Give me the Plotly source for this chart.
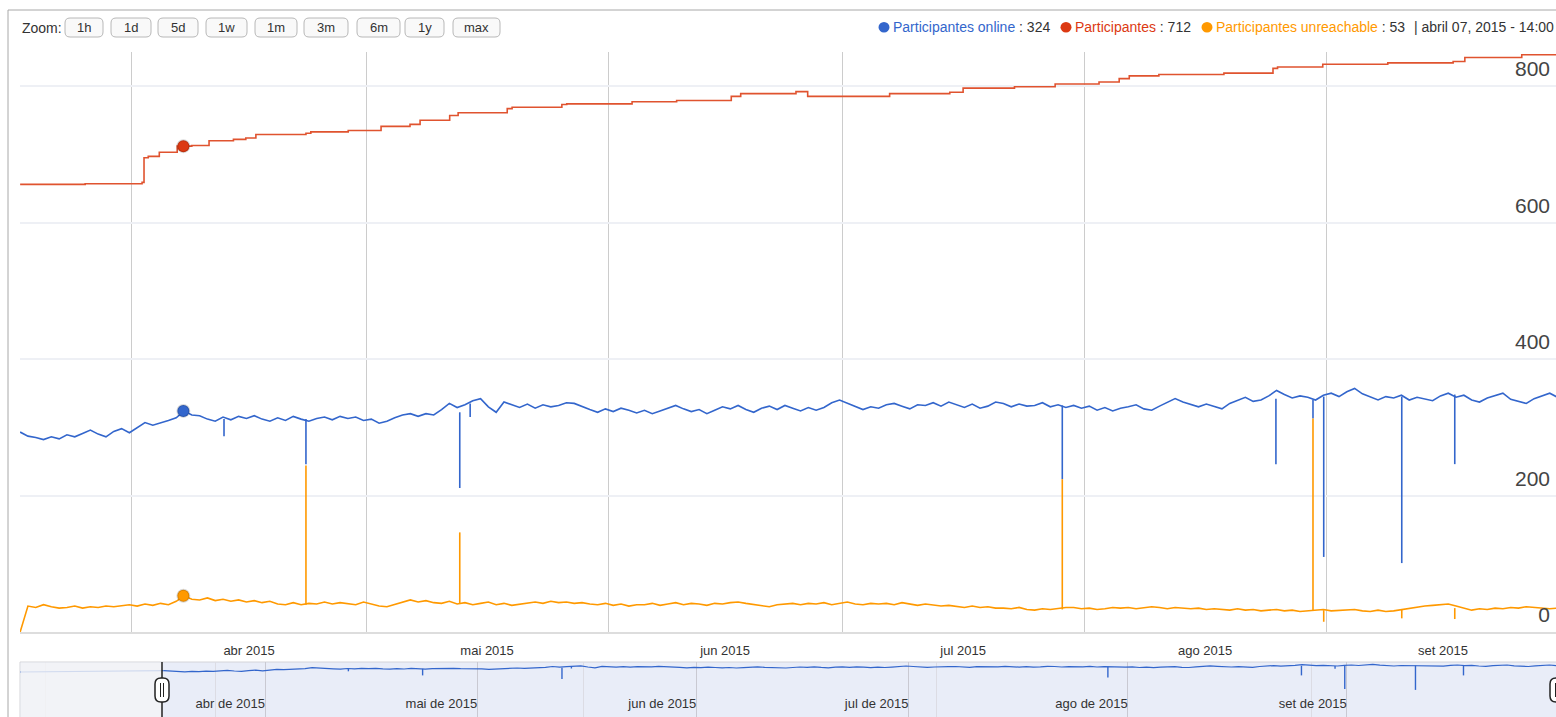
import pandas as pd
import plotly.graph_objects as go

# ---- data ----
day_start = "2015-03-17 16:00"   # one value per day from here

participantes_online = [
    293, 287, 285, 282, 286, 283, 289, 286, 291, 296,
    290, 286, 294, 298, 292, 300, 307, 303, 306, 310,
    314, 324, 318, 317, 312, 309, 315, 311, 316, 313,
    317, 312, 309, 314, 310, 316, 312, 309, 313, 315,
    311, 316, 313, 315, 310, 312, 306, 309, 314, 318,
    320, 316, 320, 318, 326, 335, 329, 333, 339, 342,
    330, 322, 337, 333, 329, 334, 328, 333, 330, 332,
    336, 335, 330, 326, 322, 327, 323, 328, 325, 321,
    325, 320, 324, 328, 332, 327, 323, 326, 320, 325,
    330, 327, 332, 326, 322, 328, 331, 326, 332, 328,
    324, 329, 325, 329, 336, 340, 335, 331, 326, 330,
    328, 333, 335, 331, 327, 333, 332, 336, 331, 337,
    333, 329, 334, 328, 331, 337, 335, 330, 334, 331,
    332, 336, 330, 333, 329, 332, 328, 331, 325, 329,
    324, 328, 330, 333, 327, 325, 331, 336, 342, 337,
    333, 330, 334, 330, 327, 335, 339, 344, 338, 340,
    346, 354, 348, 343, 346, 344, 340, 347, 350, 345,
    352, 357, 349, 344, 340, 345, 343, 347, 340, 344,
    342, 339, 346, 350, 344, 347, 340, 337, 343, 347,
    350, 341, 338, 335, 342, 346, 350, 344,
]

participantes_unreachable = [
    0, 38, 36, 40, 37, 35, 36, 38, 35, 37,
    36, 38, 37, 39, 40, 38, 41, 39, 42, 40,
    45, 53, 48, 47, 50, 46, 48, 45, 47, 44,
    46, 43, 45, 41, 40, 43, 40, 42, 41, 44,
    41, 43, 42, 40, 44, 41, 38, 37, 40, 43,
    47, 44, 46, 43, 42, 45, 41, 43, 40, 42,
    44, 40, 42, 39, 41, 43, 44, 42, 45, 43,
    44, 42, 43, 41, 40, 42, 39, 41, 38, 40,
    40, 42, 39, 41, 43, 40, 42, 41, 39, 42,
    41, 43, 44, 42, 40, 39, 37, 40, 41, 42,
    40, 42, 41, 43, 40, 42, 44, 41, 40, 42,
    41, 42, 40, 43, 41, 39, 41, 40, 38, 39,
    37, 36, 38, 36, 37, 35, 35, 34, 36, 33,
    32, 34, 33, 35, 36, 36, 34, 35, 33, 34,
    36, 35, 36, 34, 35, 37, 36, 34, 36, 35,
    34, 35, 33, 34, 33, 32, 34, 32, 33, 31,
    32, 33, 31, 32, 30, 31, 32, 33, 31, 32,
    32, 33, 31, 30, 32, 30, 31, 33, 35, 36,
    38, 39, 40, 41, 38, 35, 32, 34, 33, 35,
    34, 36, 35, 37, 36, 35, 34, 35,
]

participantes_dates = [
    "2015-03-17 16:00", "2015-03-26 00:00", "2015-04-02 07:00", "2015-04-02 13:00",
    "2015-04-03 02:00", "2015-04-04 12:00", "2015-04-06 19:00", "2015-04-08 16:00",
    "2015-04-10 21:00", "2015-04-14 00:00", "2015-04-15 14:00", "2015-04-16 21:00",
    "2015-04-23 07:00", "2015-04-23 22:00", "2015-04-28 17:00", "2015-05-02 22:00",
    "2015-05-06 15:00", "2015-05-07 22:00", "2015-05-11 17:00", "2015-05-12 19:00",
    "2015-05-19 02:00", "2015-05-19 17:00", "2015-05-26 02:00", "2015-05-26 17:00",
    "2015-06-04 02:00", "2015-06-09 19:00", "2015-06-16 19:00", "2015-06-18 00:00",
    "2015-06-25 02:00", "2015-06-26 14:00", "2015-07-07 02:00", "2015-07-14 19:00",
    "2015-07-16 12:00", "2015-07-23 02:00", "2015-07-28 07:00", "2015-08-02 22:00",
    "2015-08-05 12:00", "2015-08-06 19:00", "2015-08-10 14:00", "2015-08-18 22:00",
    "2015-08-25 05:00", "2015-08-25 19:00", "2015-08-31 14:00", "2015-09-08 22:00",
    "2015-09-17 07:00", "2015-09-18 19:00", "2015-09-26 02:00", "2015-09-30 16:00",
]
participantes = [
    656, 657, 659, 695, 697, 703, 712, 713, 720, 722, 724, 729,
    731, 733, 735, 741, 744, 750, 757, 761, 767, 769, 773, 774,
    777, 779, 785, 789, 792, 785, 789, 791, 797, 799, 803, 806,
    811, 815, 817, 819, 826, 828, 832, 834, 836, 842, 846, 849,
]

# short outages: (date, level before, level reached)
online_spike_dates = [
    "2015-04-12 19:00", "2015-04-23 07:00", "2015-05-13 00:00", "2015-05-14 08:00",
    "2015-07-29 05:00", "2015-08-25 14:00", "2015-08-30 08:00", "2015-08-31 17:00",
    "2015-09-10 17:00", "2015-09-17 12:00",
]
online_spike_base = [312, 312, 322, 335, 332, 342, 340, 345, 345, 348]
online_spike_tip = [287, 246, 211, 315, 224, 246, 313, 110, 101, 246]

unreachable_spike_dates = [
    "2015-04-23 07:00", "2015-05-13 00:00", "2015-07-29 05:00", "2015-08-30 08:00",
    "2015-08-31 17:00", "2015-09-10 17:00", "2015-09-17 12:00",
]
unreachable_spike_base = [40, 42, 33, 32, 32, 33, 35]
unreachable_spike_tip = [244, 146, 224, 313, 15, 20, 19]

# overview only: the part before the selected range
online_before_dates = ["2015-02-25 08:00", "2015-03-01", "2015-03-05", "2015-03-09",
                       "2015-03-13", "2015-03-17 16:00"]
online_before = [280, 282, 285, 283, 287, 293]

hover_date = "2015-04-07 14:00"
hover_text = "abril 07, 2015 - 14:00"
hover_online, hover_participantes, hover_unreachable = 324, 712, 53

month_starts = ["2015-04-01", "2015-05-01", "2015-06-01", "2015-07-01", "2015-08-01", "2015-09-01"]
month_middles = ["2015-04-16", "2015-05-16 12:00", "2015-06-16", "2015-07-16 12:00",
                 "2015-08-16 12:00", "2015-09-16"]
month_labels = ["abr 2015", "mai 2015", "jun 2015", "jul 2015", "ago 2015", "set 2015"]
overview_labels = ["abr de 2015", "mai de 2015", "jun de 2015", "jul de 2015",
                   "ago de 2015", "set de 2015"]
overview_minor = ["2015-03-01", "2015-03-25", "2015-05-16", "2015-07-05", "2015-08-27"]

zoom_buttons = ["1h", "1d", "5d", "1w", "1m", "3m", "6m", "1y", "max"]

# ---- figure ----
W, H = 1556, 717
BLUE, RED, ORANGE = '#3366cc', '#dc3912', '#ff9900'
FONT = 'Liberation Sans, Arial, sans-serif'


def px(x):
    return x / W


def py(y):
    return 1 - y / H


def rounded_rect(x0, y0, x1, y1, r):
    rx, ry = r / W, r / H
    a, b, c, d = px(x0), py(y0), px(x1), py(y1)
    return (f"M {a + rx},{b} L {c - rx},{b} Q {c},{b} {c},{b - ry} "
            f"L {c},{d + ry} Q {c},{d} {c - rx},{d} L {a + rx},{d} "
            f"Q {a},{d} {a},{d + ry} L {a},{b - ry} Q {a},{b} {a + rx},{b} Z")


def spike_xy(dates, base, tip):
    xs, ys = [], []
    for d, b, t in zip(dates, base, tip):
        xs += [d, d, None]
        ys += [b, t, None]
    return xs, ys


days = pd.date_range(day_start, periods=len(participantes_online), freq='D')

fig = go.Figure()

# main chart
fig.add_trace(go.Scatter(x=participantes_dates, y=participantes, mode='lines',
                         line=dict(color='#e0532f', width=1.6, shape='hv')))
fig.add_trace(go.Scatter(x=days, y=participantes_online, mode='lines',
                         line=dict(color=BLUE, width=1.6)))
sx, sy = spike_xy(online_spike_dates, online_spike_base, online_spike_tip)
fig.add_trace(go.Scatter(x=sx, y=sy, mode='lines', line=dict(color=BLUE, width=1.6)))
fig.add_trace(go.Scatter(x=days, y=participantes_unreachable, mode='lines',
                         line=dict(color=ORANGE, width=1.6)))
sx, sy = spike_xy(unreachable_spike_dates, unreachable_spike_base, unreachable_spike_tip)
fig.add_trace(go.Scatter(x=sx, y=sy, mode='lines', line=dict(color=ORANGE, width=1.6)))
fig.add_trace(go.Scatter(
    x=[hover_date] * 3, y=[hover_online, hover_participantes, hover_unreachable],
    mode='markers', marker=dict(size=12, color=[BLUE, RED, ORANGE],
                                line=dict(color='rgba(0,0,0,0.15)', width=2))))

# overview
fig.add_trace(go.Scatter(x=online_before_dates, y=online_before, mode='lines',
                         line=dict(color=BLUE, width=1.2), xaxis='x2', yaxis='y2'))
fig.add_trace(go.Scatter(x=days, y=participantes_online, mode='lines',
                         line=dict(color=BLUE, width=1.2), xaxis='x2', yaxis='y2'))
sx, sy = spike_xy(online_spike_dates, online_spike_base, online_spike_tip)
fig.add_trace(go.Scatter(x=sx, y=sy, mode='lines', line=dict(color=BLUE, width=1.4),
                         xaxis='x2', yaxis='y2'))

shapes = [
    # outer frame
    dict(type='rect', xref='paper', yref='paper', x0=px(8), x1=px(1600), y0=py(10), y1=py(740),
         line=dict(color='#a8a8a8', width=1), layer='below'),
    # overview background
    dict(type='rect', xref='paper', yref='paper', x0=px(20), x1=px(1600), y0=py(662), y1=py(740),
         fillcolor='#e9edf8', line=dict(color='#d4d4d8', width=1), layer='below'),
    # unselected part of the overview
    dict(type='rect', xref='paper', yref='paper', x0=px(20.5), x1=px(162), y0=py(662.5), y1=py(740),
         fillcolor='rgba(244,244,246,0.82)', line=dict(width=0), layer='above'),
    # range handles
    dict(type='line', xref='paper', yref='paper', x0=px(162), x1=px(162), y0=py(662), y1=py(740),
         line=dict(color='#222', width=1.5)),
]
for x0 in (155, 1550):
    shapes.append(dict(type='path', xref='paper', yref='paper',
                       path=rounded_rect(x0, 678, x0 + 14, 702, 6),
                       fillcolor='white', line=dict(color='#222', width=1.5)))
    for gx in (x0 + 5.5, x0 + 8.5):
        shapes.append(dict(type='line', xref='paper', yref='paper', x0=px(gx), x1=px(gx),
                           y0=py(683), y1=py(697), line=dict(color='#222', width=1)))

annotations = [
    dict(xref='paper', yref='paper', x=px(20), y=py(28), text='Zoom:', showarrow=False,
         xanchor='left', yanchor='middle', font=dict(size=14, color='#333', family=FONT)),
]

# header with the values under the cursor
header = [
    (884, 'Participantes online', BLUE, hover_online),
    (1066, 'Participantes', RED, hover_participantes),
    (1207, 'Participantes unreachable', ORANGE, hover_unreachable),
]
for cx, name, color, value in header:
    shapes.append(dict(type='circle', xref='paper', yref='paper',
                       x0=px(cx - 5.5), x1=px(cx + 5.5), y0=py(22), y1=py(32.5),
                       fillcolor=color, line=dict(width=0)))
    annotations.append(dict(xref='paper', yref='paper', x=px(cx + 7), y=py(27), showarrow=False,
                            xanchor='left', yanchor='middle',
                            font=dict(size=14, color='#333', family=FONT),
                            text=f'<span style="color:{color}">{name}</span> : {value}'))
annotations.append(dict(xref='paper', yref='paper', x=px(1412), y=py(27), showarrow=False,
                        xanchor='left', yanchor='middle',
                        font=dict(size=14, color='#333', family=FONT),
                        text=f'| {hover_text}'))

button_left = [65, 111, 158, 206, 255, 304, 357, 405, 453]
button_right = [103, 151, 198, 247, 297, 348, 400, 444, 500]
for label, x0, x1 in zip(zoom_buttons, button_left, button_right):
    shapes.append(dict(type='path', xref='paper', yref='paper',
                       path=rounded_rect(x0, 18, x1, 37, 5),
                       fillcolor='#f9f9f9', line=dict(color='#b8b8b8', width=1)))
    annotations.append(dict(xref='paper', yref='paper', x=px((x0 + x1) / 2), y=py(27.5),
                            text=label, showarrow=False, xanchor='center', yanchor='middle',
                            font=dict(size=13, color='#333', family=FONT)))

fig.update_layout(
    width=W, height=H,
    margin=dict(l=0, r=0, t=0, b=0),
    paper_bgcolor='white',
    plot_bgcolor='white',
    showlegend=False,
    hovermode=False,
    font=dict(family=FONT, color='#333'),
    shapes=shapes,
    annotations=annotations,
    xaxis=dict(
        domain=[px(20), 1], anchor='y', type='date',
        range=["2015-03-17 15:36", "2015-09-30 11:20"],
        tickmode='array', tickvals=month_middles, ticktext=month_labels,
        showgrid=False, ticks='', ticklabelstandoff=5,
        tickfont=dict(size=13, color='#333'),
        showline=True, linecolor='#dddddd', linewidth=2,
        minor=dict(tickmode='array', tickvals=month_starts, showgrid=True,
                   gridcolor='#cccccc', gridwidth=1, ticks=''),
        zeroline=False,
    ),
    yaxis=dict(
        domain=[py(632), py(52)], anchor='x', range=[0, 850],
        tickvals=[0, 200, 400, 600, 800], side='right',
        ticklabelposition='inside', ticklabelshift=-17, ticklabelstandoff=3,
        tickfont=dict(size=21, color='#444'),
        showgrid=True, gridcolor='#eef0f5', gridwidth=2,
        zeroline=False, showline=False, ticks='',
    ),
    xaxis2=dict(
        domain=[px(20), 1], anchor='y2', type='date',
        range=["2015-02-25 08:24", "2015-09-30 14:00"],
        tickmode='array', tickvals=month_starts, ticktext=overview_labels,
        ticklabelposition='inside left', ticks='',
        tickfont=dict(size=13, color='#333'),
        showgrid=True, gridcolor='#c9c9d2', gridwidth=1,
        minor=dict(tickmode='array', tickvals=overview_minor, showgrid=True,
                   gridcolor='#dcdce4', gridwidth=1, ticks=''),
        showline=False, zeroline=False,
    ),
    yaxis2=dict(
        domain=[0, py(662)], anchor='x2', range=[-170, 380],
        showgrid=False, showticklabels=False, zeroline=False, ticks='',
    ),
)

fig.write_html("out.html", config={'displayModeBar': False},
               post_script="document.body.style.margin='0';")
